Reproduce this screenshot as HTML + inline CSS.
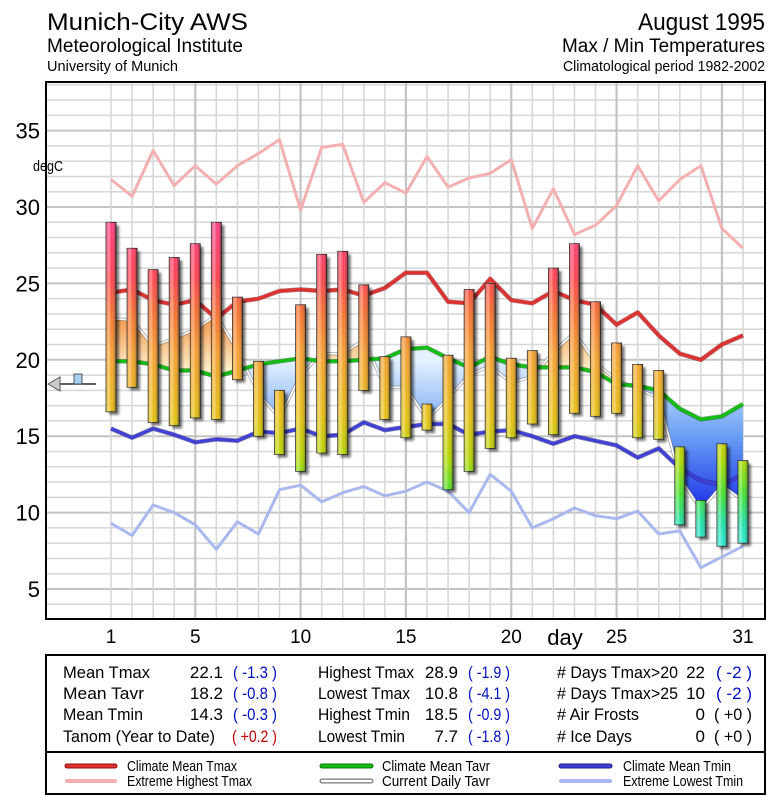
<!DOCTYPE html>
<html><head><meta charset="utf-8"><style>
html,body{margin:0;padding:0;background:#fff;}
svg{display:block;font-family:"Liberation Sans",Arial,sans-serif;}
</style></head><body>
<svg id="chart" width="775" height="800" viewBox="0 0 775 800" xmlns="http://www.w3.org/2000/svg">
<defs>
<linearGradient id="barGrad" gradientUnits="userSpaceOnUse" x1="0" y1="207" x2="0" y2="558">
<stop offset="0" stop-color="#ff3d8e"/><stop offset="0.2" stop-color="#ff4050"/><stop offset="0.3" stop-color="#f57030"/><stop offset="0.42" stop-color="#f5a030"/><stop offset="0.6" stop-color="#e6c010"/><stop offset="0.72" stop-color="#b0d800"/><stop offset="0.82" stop-color="#40e030"/><stop offset="0.9" stop-color="#20e0a8"/><stop offset="1" stop-color="#30f0f0"/>
</linearGradient>
<linearGradient id="cyl" x1="0" y1="0" x2="1" y2="0">
<stop offset="0" stop-color="#fff" stop-opacity="0.15"/><stop offset="0.3" stop-color="#fff" stop-opacity="0.4"/><stop offset="0.55" stop-color="#fff" stop-opacity="0"/><stop offset="1" stop-color="#000" stop-opacity="0.4"/>
</linearGradient>
<linearGradient id="orangeGrad" gradientUnits="userSpaceOnUse" x1="0" y1="310" x2="0" y2="372">
<stop offset="0" stop-color="#f08a38"/><stop offset="1" stop-color="#fff4d0"/>
</linearGradient>
<linearGradient id="blueGrad" gradientUnits="userSpaceOnUse" x1="0" y1="360" x2="0" y2="510">
<stop offset="0" stop-color="#e4f2ff"/><stop offset="0.5" stop-color="#6aa0f4"/><stop offset="1" stop-color="#1a30e8"/>
</linearGradient>
<filter id="shadow" x="-50%" y="-10%" width="200%" height="120%"><feGaussianBlur stdDeviation="1.2"/></filter>
<clipPath id="aboveClip"><polygon id="aboveClipPoly"/></clipPath>
<clipPath id="belowClip"><polygon id="belowClipPoly"/></clipPath>
</defs>

<g>
<text x="47" y="30" font-size="24" textLength="201" lengthAdjust="spacingAndGlyphs">Munich-City AWS</text>
<text x="47" y="52" font-size="19" textLength="196" lengthAdjust="spacingAndGlyphs">Meteorological Institute</text>
<text x="47" y="71" font-size="15" textLength="131" lengthAdjust="spacingAndGlyphs">University of Munich</text>
<text x="765" y="30" font-size="24" text-anchor="end" textLength="127" lengthAdjust="spacingAndGlyphs">August 1995</text>
<text x="765" y="52" font-size="19" text-anchor="end" textLength="203" lengthAdjust="spacingAndGlyphs">Max / Min Temperatures</text>
<text x="765" y="71" font-size="15" text-anchor="end" textLength="202" lengthAdjust="spacingAndGlyphs">Climatological period 1982-2002</text>
</g>

<g id="grid"></g>
<g id="fills"></g>
<g id="lines"></g>
<g id="bars"></g>
<rect x="46" y="82" width="719" height="537" fill="none" stroke="#000" stroke-width="2"/>
<g id="yticks"></g>
<text x="33" y="171" font-size="15" textLength="30" lengthAdjust="spacingAndGlyphs">degC</text>
<g id="xticks"></g>
<text x="565" y="645" font-size="22" text-anchor="middle">day</text>

<g id="marker">
<line x1="58" y1="384" x2="96" y2="384" stroke="#000" stroke-width="1.2"/>
<polygon points="48,384 60,377 60,391" fill="#ccc" stroke="#555" stroke-width="1"/>
<rect x="74" y="374" width="8" height="10" fill="#a8d0f0" stroke="#333" stroke-width="0.8"/>
</g>

<g font-size="17">
<rect x="46" y="655" width="719" height="97" fill="#fff" stroke="#000" stroke-width="2"/>
<g>
<text x="63" y="678" textLength="87" lengthAdjust="spacingAndGlyphs">Mean Tmax</text><text x="223" y="678" text-anchor="end">22.1</text><text x="233" y="678" fill="#0010c0" textLength="44" lengthAdjust="spacingAndGlyphs">( -1.3 )</text>
<text x="63" y="699" textLength="81" lengthAdjust="spacingAndGlyphs">Mean Tavr</text><text x="223" y="699" text-anchor="end">18.2</text><text x="233" y="699" fill="#0010c0" textLength="44" lengthAdjust="spacingAndGlyphs">( -0.8 )</text>
<text x="63" y="720" textLength="80" lengthAdjust="spacingAndGlyphs">Mean Tmin</text><text x="223" y="720" text-anchor="end">14.3</text><text x="233" y="720" fill="#0010c0" textLength="44" lengthAdjust="spacingAndGlyphs">( -0.3 )</text>
<text x="63" y="742" textLength="152" lengthAdjust="spacingAndGlyphs">Tanom (Year to Date)</text><text x="232" y="742" fill="#c00000" textLength="45" lengthAdjust="spacingAndGlyphs">( +0.2 )</text>
</g>
<g>
<text x="318" y="678" textLength="96" lengthAdjust="spacingAndGlyphs">Highest Tmax</text><text x="458" y="678" text-anchor="end">28.9</text><text x="468" y="678" fill="#0010c0" textLength="42" lengthAdjust="spacingAndGlyphs">( -1.9 )</text>
<text x="318" y="699" textLength="92" lengthAdjust="spacingAndGlyphs">Lowest Tmax</text><text x="458" y="699" text-anchor="end">10.8</text><text x="468" y="699" fill="#0010c0" textLength="42" lengthAdjust="spacingAndGlyphs">( -4.1 )</text>
<text x="318" y="720" textLength="92" lengthAdjust="spacingAndGlyphs">Highest Tmin</text><text x="458" y="720" text-anchor="end">18.5</text><text x="468" y="720" fill="#0010c0" textLength="42" lengthAdjust="spacingAndGlyphs">( -0.9 )</text>
<text x="318" y="742" textLength="87" lengthAdjust="spacingAndGlyphs">Lowest Tmin</text><text x="458" y="742" text-anchor="end">7.7</text><text x="468" y="742" fill="#0010c0" textLength="42" lengthAdjust="spacingAndGlyphs">( -1.8 )</text>
</g>
<g>
<text x="557" y="678" textLength="121" lengthAdjust="spacingAndGlyphs"># Days Tmax&gt;20</text><text x="705" y="678" text-anchor="end">22</text><text x="716" y="678" fill="#0010c0" textLength="36" lengthAdjust="spacingAndGlyphs">( -2 )</text>
<text x="557" y="699" textLength="121" lengthAdjust="spacingAndGlyphs"># Days Tmax&gt;25</text><text x="705" y="699" text-anchor="end">10</text><text x="716" y="699" fill="#0010c0" textLength="36" lengthAdjust="spacingAndGlyphs">( -2 )</text>
<text x="557" y="720" textLength="82" lengthAdjust="spacingAndGlyphs"># Air Frosts</text><text x="705" y="720" text-anchor="end">0</text><text x="714" y="720" textLength="38" lengthAdjust="spacingAndGlyphs">( +0 )</text>
<text x="557" y="742" textLength="75" lengthAdjust="spacingAndGlyphs"># Ice Days</text><text x="705" y="742" text-anchor="end">0</text><text x="714" y="742" textLength="38" lengthAdjust="spacingAndGlyphs">( +0 )</text>
</g>
</g>

<g font-size="15">
<rect x="46" y="752" width="719" height="42" fill="#fff" stroke="#000" stroke-width="2"/>
<g><line x1="67" y1="766" x2="115" y2="766" stroke="#901010" stroke-width="5" stroke-linecap="round"/><line x1="67" y1="766" x2="115" y2="766" stroke="#e03030" stroke-width="3" stroke-linecap="round"/><text x="127" y="771" textLength="110" lengthAdjust="spacingAndGlyphs">Climate Mean Tmax</text></g>
<g><line x1="67" y1="781" x2="115" y2="781" stroke="#f4b0b0" stroke-width="4" stroke-linecap="round"/><text x="127" y="786" textLength="125" lengthAdjust="spacingAndGlyphs">Extreme Highest Tmax</text></g>
<g><line x1="322" y1="766" x2="371" y2="766" stroke="#107010" stroke-width="5" stroke-linecap="round"/><line x1="322" y1="766" x2="371" y2="766" stroke="#10c010" stroke-width="3" stroke-linecap="round"/><text x="382" y="771" textLength="108" lengthAdjust="spacingAndGlyphs">Climate Mean Tavr</text></g>
<g><line x1="322" y1="781" x2="371" y2="781" stroke="#777" stroke-width="5" stroke-linecap="round"/><line x1="322" y1="781" x2="371" y2="781" stroke="#fff" stroke-width="2.5" stroke-linecap="round"/><text x="382" y="786" textLength="108" lengthAdjust="spacingAndGlyphs">Current Daily Tavr</text></g>
<g><line x1="561" y1="766" x2="610" y2="766" stroke="#202080" stroke-width="5" stroke-linecap="round"/><line x1="561" y1="766" x2="610" y2="766" stroke="#4040d8" stroke-width="3" stroke-linecap="round"/><text x="623" y="771" textLength="108" lengthAdjust="spacingAndGlyphs">Climate Mean Tmin</text></g>
<g><line x1="561" y1="781" x2="610" y2="781" stroke="#a8b8f0" stroke-width="4" stroke-linecap="round"/><text x="623" y="786" textLength="120" lengthAdjust="spacingAndGlyphs">Extreme Lowest Tmin</text></g>
</g>
</svg>
<script>
const days = [1,2,3,4,5,6,7,8,9,10,11,12,13,14,15,16,17,18,19,20,21,22,23,24,25,26,27,28,29,30,31];
const tmax = [29.0,27.3,25.9,26.7,27.6,29.0,24.1,19.9,18.0,23.6,26.9,27.1,24.9,20.2,21.5,17.1,20.3,24.6,25.0,20.1,20.6,26.0,27.6,23.8,21.1,19.7,19.3,14.3,10.8,14.5,13.4];
const tmin = [16.6,18.2,15.9,15.7,16.2,16.1,18.7,15.0,13.8,12.7,13.9,13.8,18.0,16.1,14.9,15.4,11.5,12.7,14.2,14.9,15.8,15.1,16.5,16.3,16.5,14.9,14.8,9.2,8.4,7.8,8.0];
const tavr = [22.7,22.6,20.9,21.4,22.0,22.9,20.6,17.8,16.2,19.0,20.4,20.4,21.3,18.2,18.2,16.1,17.5,19.0,19.6,18.5,18.9,20.5,21.8,19.8,18.7,18.1,17.5,12.3,10.2,11.8,10.8];
const climMax = [24.4,24.6,23.9,23.6,23.9,22.7,23.8,24.0,24.5,24.6,24.5,24.6,24.2,24.7,25.7,25.7,23.8,23.7,25.3,23.9,23.7,24.5,23.9,23.6,22.3,23.1,21.6,20.4,20.0,21.0,21.6];
const extMax = [31.8,30.7,33.7,31.4,32.7,31.5,32.7,33.5,34.4,29.8,33.9,34.1,30.3,31.6,30.9,33.3,31.3,31.9,32.2,33.1,28.6,31.2,28.2,28.8,30.1,32.7,30.4,31.8,32.7,28.6,27.3];
const climAvg = [19.9,19.9,19.7,19.3,19.3,18.9,19.3,19.7,19.9,20.1,19.9,19.9,20.0,20.1,20.7,20.8,20.1,19.5,20.2,19.7,19.5,19.5,19.5,19.2,18.4,18.3,18.0,16.8,16.1,16.3,17.1];
const climMin = [15.5,14.9,15.5,15.1,14.6,14.8,14.7,15.3,15.2,15.5,15.0,15.1,15.9,15.4,15.6,15.8,15.8,15.1,15.3,15.4,15.0,14.5,15.0,14.7,14.4,13.6,14.2,12.9,12.1,11.8,12.5];
const extMin = [9.3,8.5,10.5,10.0,9.2,7.6,9.4,8.6,11.5,11.8,10.7,11.3,11.7,11.1,11.4,12.0,11.4,10.0,12.5,11.4,9.0,9.6,10.3,9.8,9.6,10.1,8.6,8.8,6.4,7.1,7.8];
const yTicks = [5,10,15,20,25,30,35];
const xTickLabels = ["1","5","10","15","20","25","31"];
const xTickDays = [1,5,10,15,20,25,31];

const NS = "http://www.w3.org/2000/svg";
function X(d){ return 111 + (d-1)*(632/30); }
function Y(t){ return 207 - (t-30)*15.28; }
function mk(tag, attrs, parent){
  const e = document.createElementNS(NS, tag);
  for (const k in attrs) e.setAttribute(k, attrs[k]);
  parent.appendChild(e);
  return e;
}
function pts(arr){ return arr.map((v,i)=>X(days[i]).toFixed(1)+","+Y(v).toFixed(1)).join(" "); }

const grid = document.getElementById('grid');
for (let t=4; t<=38; t++){
  const y = Y(t);
  if (y < 82 || y > 619) continue;
  const l = mk('line', {x1:47, x2:765, y1:y, y2:y, stroke:(t%5===0?'#c4c4c4':'#d6d6d6'), 'stroke-width':(t%5===0?2:1.5)}, grid);
  
  
}
days.forEach(d=>{
  const x = X(d);
  const l = mk('line', {x1:x, x2:x, y1:82, y2:619, stroke:(d%5===0?'#c4c4c4':'#d6d6d6'), 'stroke-width':(d%5===0?2.2:1.5)}, grid);
  
  
});

const greenPts = climAvg.map((v,i)=>[X(days[i]),Y(v)]);
const gp = greenPts.map(p=>p[0].toFixed(1)+","+p[1].toFixed(1)).join(" ");
document.getElementById('aboveClipPoly').setAttribute('points', gp+" "+X(31)+",82 "+X(1)+",82");
document.getElementById('belowClipPoly').setAttribute('points', gp+" "+X(31)+",619 "+X(1)+",619");
const areaPts = pts(tavr) + " " + greenPts.slice().reverse().map(p=>p[0].toFixed(1)+","+p[1].toFixed(1)).join(" ");
const fills = document.getElementById('fills');
const fa = mk('polygon', {points:areaPts, fill:'url(#orangeGrad)', 'clip-path':'url(#aboveClip)'}, fills);


const fb = mk('polygon', {points:areaPts, fill:'url(#blueGrad)', 'clip-path':'url(#belowClip)'}, fills);



const lines = document.getElementById('lines');
function line(arr, color, w, name, outline){
  if (outline){ const o = mk('polyline', {points:pts(arr), fill:'none', stroke:outline, 'stroke-width':w+1.5, 'stroke-linejoin':'round', opacity:0.6}, lines);
    
     }
  const p = mk('polyline', {points:pts(arr), fill:'none', stroke:color, 'stroke-width':w, 'stroke-linejoin':'round'}, lines);
  
  
}
line(extMax, '#f4b0b0', 3, 'extreme-highest-tmax-line');
line(extMin, '#aab8f0', 3, 'extreme-lowest-tmin-line');
line(tavr, '#ffffff', 1.8, 'current-daily-tavr-line', '#666');
line(climMax, '#e03030', 3, 'climate-mean-tmax-line', '#801010');
line(climAvg, '#10c010', 3, 'climate-mean-tavr-line', '#106010');
line(climMin, '#4040d8', 3, 'climate-mean-tmin-line', '#202070');

const bars = document.getElementById('bars');
days.forEach((d,i)=>{
  const x = X(d)-5, y1 = Y(tmax[i]), y2 = Y(tmin[i]);
  const s = mk('rect', {x:x+3, y:y1+3, width:10, height:y2-y1, fill:'#000', opacity:0.55, filter:'url(#shadow)'}, bars);
  
  
  const b = mk('rect', {x:x, y:y1, width:10, height:y2-y1, fill:'url(#barGrad)', stroke:'#222', 'stroke-width':0.8}, bars);
  
  
  const h = mk('rect', {x:x, y:y1, width:10, height:y2-y1, fill:'url(#cyl)'}, bars);
  
  
});

const yg = document.getElementById('yticks');
yTicks.forEach(t=>{
  const tx = mk('text', {x:40, y:Y(t)+8, 'font-size':22, 'text-anchor':'end'}, yg);
  tx.textContent = String(t);
  
  
});
const xg = document.getElementById('xticks');
xTickDays.forEach((d,i)=>{
  const tx = mk('text', {x:X(d), y:643, 'font-size':19, 'text-anchor':'middle'}, xg);
  tx.textContent = xTickLabels[i];
  
  
});
</script>
</body></html>
